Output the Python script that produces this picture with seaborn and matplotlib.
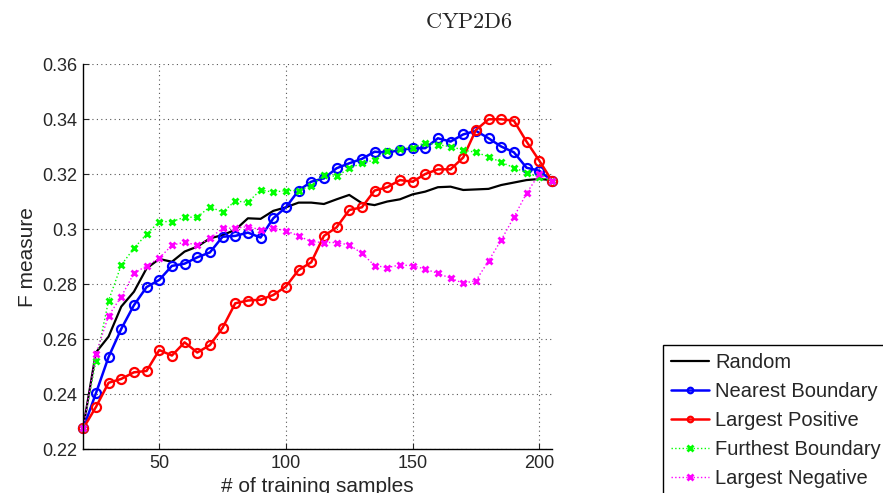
import numpy as np
import pandas as pd
import seaborn as sns
import matplotlib
matplotlib.use("Agg")
import matplotlib.pyplot as plt
from matplotlib.ticker import FormatStrFormatter

# number of training samples
n_samples = [20, 25, 30, 35, 40, 45, 50, 55, 60, 65, 70, 75, 80, 85, 90, 95, 100,
             105, 110, 115, 120, 125, 130, 135, 140, 145, 150, 155, 160, 165, 170,
             175, 180, 185, 190, 195, 200, 205]

random_f = [0.2280, 0.2552, 0.2610, 0.2719, 0.2773, 0.2858, 0.2892, 0.2882, 0.2919,
            0.2937, 0.2967, 0.2979, 0.2998, 0.3040, 0.3038, 0.3067, 0.3080, 0.3097,
            0.3097, 0.3092, 0.3109, 0.3125, 0.3095, 0.3088, 0.3101, 0.3109, 0.3127,
            0.3137, 0.3153, 0.3155, 0.3143, 0.3145, 0.3147, 0.3161, 0.3170, 0.3179,
            0.3183, 0.3179]

nearest_f = [0.2276, 0.2404, 0.2536, 0.2638, 0.2724, 0.2790, 0.2816, 0.2867, 0.2875,
             0.2898, 0.2916, 0.2973, 0.2976, 0.2988, 0.2970, 0.3040, 0.3080, 0.3141,
             0.3173, 0.3185, 0.3222, 0.3240, 0.3256, 0.3282, 0.3279, 0.3288, 0.3295,
             0.3295, 0.3331, 0.3319, 0.3345, 0.3358, 0.3331, 0.3301, 0.3280, 0.3224,
             0.3213, 0.3177]

positive_f = [0.2276, 0.2354, 0.2442, 0.2456, 0.2480, 0.2485, 0.2561, 0.2541, 0.2589,
              0.2552, 0.2579, 0.2642, 0.2731, 0.2741, 0.2744, 0.2761, 0.2792, 0.2852,
              0.2880, 0.2976, 0.3007, 0.3070, 0.3080, 0.3141, 0.3153, 0.3179, 0.3173,
              0.3201, 0.3218, 0.3218, 0.3261, 0.3361, 0.3400, 0.3400, 0.3395, 0.3319,
              0.3250, 0.3177]

furthest_f = [0.2276, 0.2521, 0.2741, 0.2870, 0.2931, 0.2982, 0.3028, 0.3028, 0.3044,
              0.3044, 0.3082, 0.3062, 0.3103, 0.3098, 0.3143, 0.3135, 0.3141, 0.3141,
              0.3158, 0.3198, 0.3192, 0.3222, 0.3240, 0.3252, 0.3286, 0.3291, 0.3297,
              0.3315, 0.3307, 0.3301, 0.3288, 0.3280, 0.3264, 0.3244, 0.3224, 0.3206,
              0.3189, 0.3177]

negative_f = [0.2276, 0.2547, 0.2686, 0.2755, 0.2840, 0.2867, 0.2895, 0.2942, 0.2953,
              0.2942, 0.2967, 0.3004, 0.3004, 0.3010, 0.2998, 0.3004, 0.2995, 0.2976,
              0.2955, 0.2952, 0.2952, 0.2943, 0.2913, 0.2868, 0.2861, 0.2870, 0.2868,
              0.2855, 0.2840, 0.2822, 0.2804, 0.2813, 0.2885, 0.2961, 0.3044, 0.3131,
              0.3201, 0.3177]

y_ticks = [0.22, 0.24, 0.26, 0.28, 0.30, 0.32, 0.34, 0.36]
x_ticks = [50, 100, 150, 200]

sns.set_style("ticks")
plt.rcParams["font.family"] = ["Liberation Sans", "DejaVu Sans"]
plt.rcParams["mathtext.fontset"] = "cm"

fig = plt.figure(figsize=(8.83, 4.93), dpi=100)
ax = fig.add_axes([0.0943, 0.0886, 0.5307, 0.781])

sns.lineplot(x=n_samples, y=random_f, ax=ax, color="black", linewidth=1.6,
             label="Random", clip_on=False)
sns.lineplot(x=n_samples, y=nearest_f, ax=ax, color="#0000ff", linewidth=1.8,
             marker="o", markersize=6.5, markerfacecolor="none",
             markeredgecolor="#0000ff", markeredgewidth=1.6, label="Nearest Boundary",
             clip_on=False)
sns.lineplot(x=n_samples, y=positive_f, ax=ax, color="#ff0000", linewidth=1.8,
             marker="o", markersize=6.5, markerfacecolor="none",
             markeredgecolor="#ff0000", markeredgewidth=1.6, label="Largest Positive",
             clip_on=False)
sns.lineplot(x=n_samples, y=furthest_f, ax=ax, color="#00ff00", linewidth=1.0,
             linestyle=":", marker="x", markersize=4.5, markeredgewidth=2,
             markeredgecolor="#00ff00", label="Furthest Boundary", clip_on=False)
sns.lineplot(x=n_samples, y=negative_f, ax=ax, color="#ff00ff", linewidth=1.0,
             linestyle=":", marker="x", markersize=4.5, markeredgewidth=2,
             markeredgecolor="#ff00ff", label="Largest Negative", clip_on=False)

ax.set_xlim(20, 205)
ax.set_ylim(0.22, 0.36)
ax.set_xticks(x_ticks)
ax.set_yticks(y_ticks)
ax.yaxis.set_major_formatter(FormatStrFormatter("%g"))
ax.tick_params(direction="in", length=4, width=0.8, labelsize=13, pad=4)
ax.grid(True, linestyle=(0, (1, 3)), color="#555555", linewidth=0.8)
sns.despine(ax=ax, top=True, right=True)
for s in ["left", "bottom"]:
    ax.spines[s].set_linewidth(1.0)
    ax.spines[s].set_color("black")

ax.set_xlabel("# of training samples", fontsize=15, labelpad=4)
ax.set_ylabel("F measure", fontsize=15, labelpad=4)

fig.text(469 / 883, 1 - 22.5 / 493, r"$\mathrm{CYP2D6}$", ha="center", va="center",
         fontsize=16)

leg = ax.legend(loc="upper left", bbox_to_anchor=(663 / 883, 1 - 345 / 493),
                bbox_transform=fig.transFigure, borderaxespad=0, fontsize=14.5,
                frameon=True, fancybox=False, edgecolor="black", framealpha=1,
                handlelength=1.9, handletextpad=0.3, labelspacing=0.5,
                borderpad=0.4, numpoints=1)
leg.get_frame().set_linewidth(1.0)
for h in leg.legend_handles:
    h.set_markersize(4)

fig.savefig("out.png", dpi=100)
